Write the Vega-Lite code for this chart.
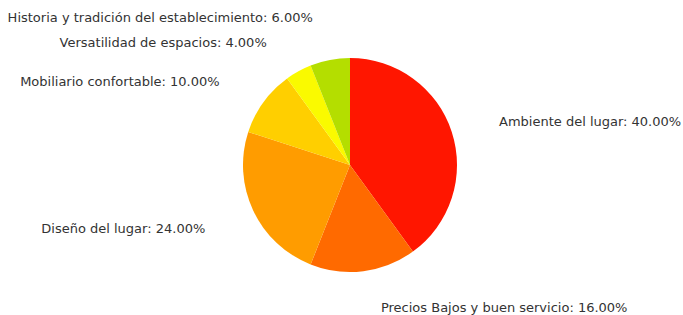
{
  "$schema": "https://vega.github.io/schema/vega-lite/v6.json",
  "width": 666,
  "height": 300,
  "autosize": {"type": "none"},
  "padding": {"left": 17, "top": 15, "right": 0, "bottom": 0},
  "background": "white",
  "config": {"view": {"stroke": null}, "text": {"font": "DejaVu Sans", "fontSize": 13, "fill": "#333333"}},
  "data": {
    "values": [
      {"rank": 1, "category": "Ambiente del lugar", "value": 40, "label": "Ambiente del lugar: 40.00%"},
      {"rank": 2, "category": "Precios Bajos y buen servicio", "value": 16, "label": "Precios Bajos y buen servicio: 16.00%"},
      {"rank": 3, "category": "Diseño del lugar", "value": 24, "label": "Diseño del lugar: 24.00%"},
      {"rank": 4, "category": "Mobiliario confortable", "value": 10, "label": "Mobiliario confortable: 10.00%"},
      {"rank": 5, "category": "Versatilidad de espacios", "value": 4, "label": "Versatilidad de espacios: 4.00%"},
      {"rank": 6, "category": "Historia y tradición del establecimiento", "value": 6, "label": "Historia y tradición del establecimiento: 6.00%"}
    ]
  },
  "encoding": {
    "theta": {"field": "value", "type": "quantitative", "stack": true},
    "order": {"field": "rank", "type": "quantitative"}
  },
  "layer": [
    {
      "mark": {"type": "arc", "outerRadius": 107},
      "encoding": {
        "color": {
          "field": "category",
          "type": "nominal",
          "legend": null,
          "scale": {
            "domain": ["Ambiente del lugar", "Precios Bajos y buen servicio", "Diseño del lugar", "Mobiliario confortable", "Versatilidad de espacios", "Historia y tradición del establecimiento"],
            "range": ["#FF1600", "#FF6A00", "#FF9C00", "#FFCF00", "#FAFA00", "#B4DE00"]
          }
        }
      }
    },
    {
      "mark": {"type": "text", "radius": 143, "align": "left", "dx": 13, "dy": 1, "baseline": "middle"},
      "encoding": {
        "text": {"condition": {"test": "datum.rank <= 2", "field": "label"}, "value": ""}
      }
    },
    {
      "mark": {"type": "text", "radius": 150, "align": "right", "dx": -9, "baseline": "middle"},
      "encoding": {
        "text": {"condition": {"test": "datum.rank == 3 || datum.rank == 6", "field": "label"}, "value": ""}
      }
    },
    {
      "mark": {"type": "text", "radius": 150, "align": "right", "dx": -9, "dy": 5, "baseline": "middle"},
      "encoding": {
        "text": {"condition": {"test": "datum.rank == 4", "field": "label"}, "value": ""}
      }
    },
    {
      "mark": {"type": "text", "radius": 150, "align": "right", "dx": -11, "dy": 9, "baseline": "middle"},
      "encoding": {
        "text": {"condition": {"test": "datum.rank == 5", "field": "label"}, "value": ""}
      }
    }
  ]
}
